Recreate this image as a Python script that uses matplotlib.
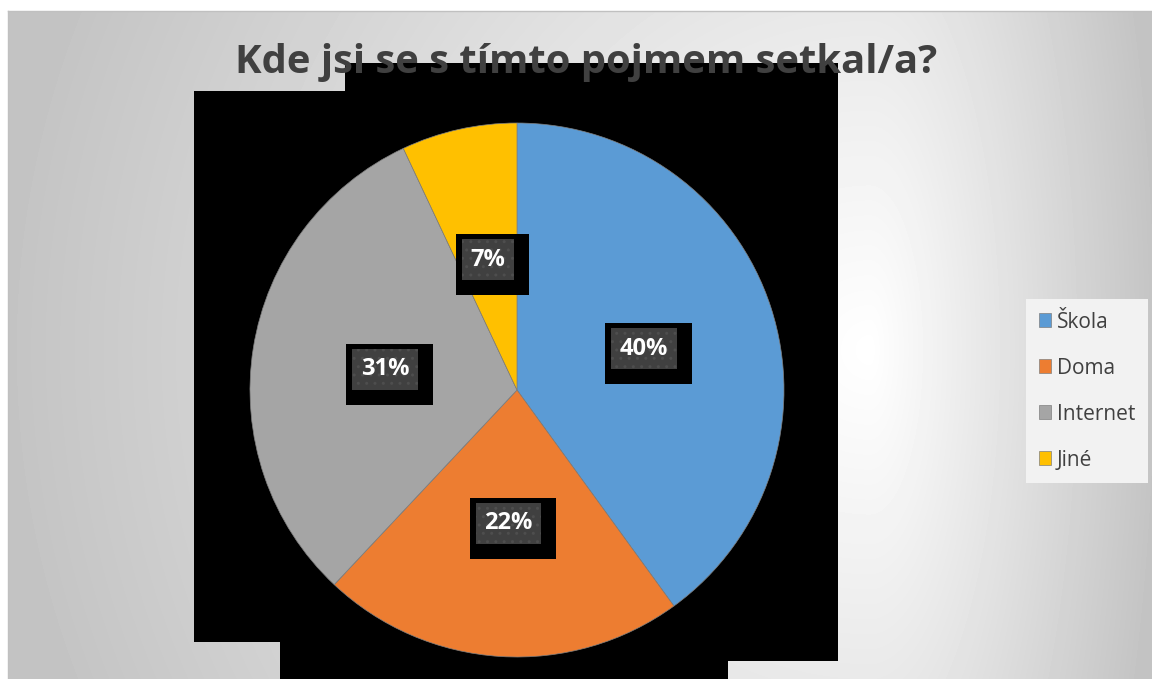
import numpy as np
import matplotlib.pyplot as plt
from matplotlib.patches import Polygon, Rectangle

categories = ["Škola", "Doma", "Internet", "Jiné"]
shares = [40, 22, 31, 7]
colors = ["#5B9BD5", "#ED7D31", "#A5A5A5", "#FFC000"]
title = "Kde jsi se s tímto pojmem setkal/a?"

W, H = 1152, 679
plt.rcParams["font.family"] = ["Open Sans", "DejaVu Sans"]

fig = plt.figure(figsize=(W / 100, H / 100), dpi=100)

# chart area background: soft radial fill, white outside the frame
bg = fig.add_axes([0, 0, 1, 1])
yy, xx = np.mgrid[0:H, 0:W] + 0.5
dx = xx - 870
a = np.where(dx > 0, 290, 870)
t = np.sqrt((dx / a) ** 2 + ((yy - 350) / 900) ** 2)
shade = 1 - 0.235 * np.clip(t, 0, 1)
shade[(xx < 8) | (yy < 11)] = 1
bg.imshow(shade, cmap="gray", vmin=0, vmax=1, extent=(0, W, H, 0),
          interpolation="bilinear", aspect="auto")
bg.plot([8, W], [11, 11], color="#c0c0c0", lw=1)
bg.plot([8, 8], [11, H], color="#c0c0c0", lw=1)

# the black rendering artefact behind the plot area
bg.add_patch(Polygon([(194, 91), (345, 91), (345, 63), (838, 63), (838, 661),
                      (728, 661), (728, H), (280, H), (280, 642), (194, 642)],
                     closed=True, facecolor="black", lw=0))
bg.set_xlim(0, W)
bg.set_ylim(H, 0)
bg.axis("off")

fig.text(586 / W, 1 - 63 / H, title, ha="center", va="center",
         fontsize=28.8, fontweight="bold", color="#404040")

# pie
R = 267
ax = fig.add_axes([(517 - 270) / W, 1 - (390 + 270) / H, 540 / W, 540 / H])
wedges, _, autotexts = ax.pie(
    shares, colors=colors, startangle=90, counterclock=False,
    radius=R / 270, autopct="%d%%", pctdistance=0.5,
    wedgeprops=dict(edgecolor="#7f7f7f", linewidth=0.5))
ax.set_xlim(-1, 1)
ax.set_ylim(-1, 1)
ax.axis("off")

for txt in autotexts:
    txt.set(fontsize=17, fontweight="bold", color="white", zorder=4)
    txt.set_bbox(dict(boxstyle="square,pad=0.36", facecolor="#404040",
                      edgecolor="#4e4e4e", linewidth=0, hatch=".."))

# black box sitting behind each label, a little larger and shifted down-right
fig.canvas.draw()
for txt in autotexts:
    bb = txt.get_bbox_patch().get_window_extent()
    ax.add_patch(Rectangle((bb.x0 - 6, bb.y0 - 15), bb.width + 21,
                           bb.height + 20, transform=None,
                           facecolor="black", lw=0, zorder=3))

fig.legend(wedges, categories, loc="upper left",
           bbox_to_anchor=(1026 / W, 1 - 299 / H), borderaxespad=0,
           frameon=True, fancybox=False, facecolor="#f2f2f2",
           edgecolor="none", framealpha=1, fontsize=15,
           labelcolor="#404040", handlelength=0.62, handleheight=0.62,
           handletextpad=0.25, labelspacing=1.2, borderpad=0.6)

fig.savefig("out.png", dpi=100)
